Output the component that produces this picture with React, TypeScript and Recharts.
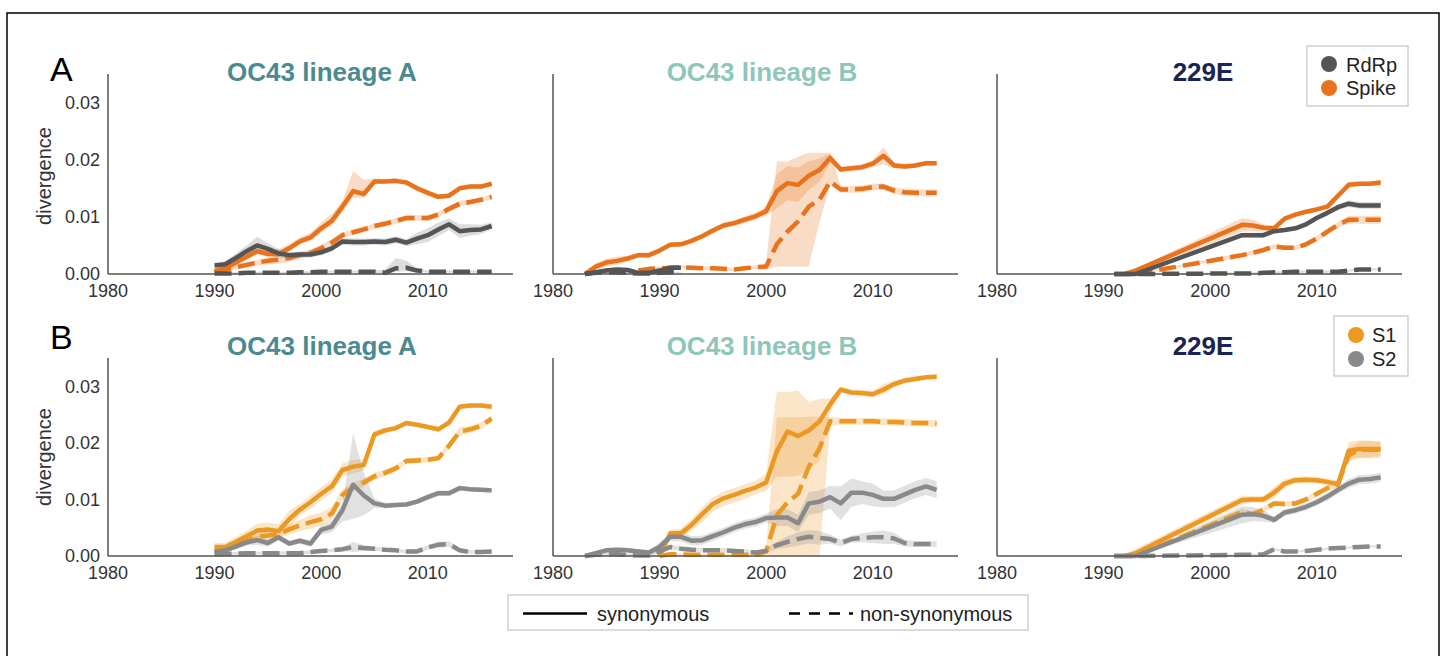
import { Area, ComposedChart, Line, XAxis, YAxis } from 'recharts';

const FONT = "'Liberation Sans', Arial, Helvetica, sans-serif";

// sampling years of each clade
const YEARS_OC43A = [1990, 1991, 1992, 1993, 1994, 1995, 1996, 1997, 1998, 1999, 2000, 2001, 2002, 2003, 2004, 2005, 2006, 2007, 2008, 2009, 2010, 2011, 2012, 2013, 2014, 2015, 2016];
const YEARS_OC43B = [1983, 1984, 1985, 1986, 1987, 1988, 1989, 1990, 1991, 1992, 1993, 1994, 1995, 1996, 1997, 1998, 1999, 2000, 2001, 2002, 2003, 2004, 2005, 2006, 2007, 2008, 2009, 2010, 2011, 2012, 2013, 2014, 2015, 2016];
const YEARS_229E = [1991, 1992, 1993, 2003, 2004, 2005, 2006, 2007, 2008, 2009, 2010, 2011, 2012, 2013, 2014, 2015, 2016];

const X_TICKS = [1980, 1990, 2000, 2010];
const Y_TICKS = [0, 0.01, 0.02, 0.03];

// ---- row A: RdRp vs Spike ----
// OC43 lineage A
const SPIKE_SYN_A = [0.0005, 0.001, 0.002, 0.003, 0.004, 0.0035, 0.0035, 0.0045, 0.0057, 0.0064, 0.008, 0.0093, 0.0118, 0.0145, 0.014, 0.0162, 0.0162, 0.0163, 0.016, 0.015, 0.0142, 0.0135, 0.0137, 0.015, 0.0153, 0.0153, 0.0158];
const SPIKE_SYN_A_UP = [0.0003, 0.0004, 0.0006, 0.0008, 0.0009, 0.0008, 0.0008, 0.0008, 0.0007, 0.0008, 0.001, 0.0012, 0.001, 0.0035, 0.0025, 0.0005, 0.0004, 0.0004, 0.0004, 0.0005, 0.0005, 0.0004, 0.0004, 0.0004, 0.0004, 0.0004, 0.0004];
const SPIKE_SYN_A_DN = [0.0003, 0.0004, 0.0005, 0.0006, 0.0006, 0.0005, 0.0005, 0.0005, 0.0005, 0.0006, 0.0008, 0.0008, 0.001, 0.0012, 0.0008, 0.0004, 0.0004, 0.0004, 0.0004, 0.0005, 0.0005, 0.0004, 0.0004, 0.0004, 0.0004, 0.0004, 0.0004];
const SPIKE_NON_A = [0.0003, 0.0008, 0.0012, 0.0016, 0.002, 0.0023, 0.0025, 0.0028, 0.0033, 0.0037, 0.0045, 0.0055, 0.0068, 0.0073, 0.0078, 0.0084, 0.0088, 0.0093, 0.0098, 0.0098, 0.0098, 0.0104, 0.0114, 0.0123, 0.0126, 0.013, 0.0135];
const SPIKE_NON_A_E = [0.0003, 0.0004, 0.0004, 0.0005, 0.0005, 0.0006, 0.0007, 0.0007, 0.0006, 0.0006, 0.0006, 0.0006, 0.0005, 0.0005, 0.0005, 0.0005, 0.0005, 0.0005, 0.0005, 0.0005, 0.0005, 0.0005, 0.0005, 0.0005, 0.0004, 0.0004, 0.0004];
const RDRP_SYN_A = [0.0015, 0.0017, 0.0028, 0.004, 0.005, 0.0044, 0.0036, 0.0033, 0.0034, 0.0034, 0.0038, 0.0045, 0.0057, 0.0056, 0.0056, 0.0057, 0.0056, 0.006, 0.0055, 0.0062, 0.0068, 0.0078, 0.0087, 0.0075, 0.0077, 0.0078, 0.0084];
const RDRP_SYN_A_E = [0.0005, 0.0005, 0.0008, 0.001, 0.0015, 0.001, 0.0008, 0.0005, 0.0005, 0.0005, 0.0005, 0.0005, 0.0006, 0.0006, 0.0006, 0.0006, 0.0006, 0.0006, 0.0006, 0.001, 0.0012, 0.0012, 0.001, 0.0012, 0.001, 0.0008, 0.0006];
const RDRP_NON_A = [0.0001, 0.0001, 0.0001, 0.0002, 0.0002, 0.0002, 0.0002, 0.0002, 0.0003, 0.0003, 0.0004, 0.0004, 0.0004, 0.0004, 0.0004, 0.0004, 0.0002, 0.001, 0.0011, 0.0006, 0.0004, 0.0004, 0.0004, 0.0004, 0.0004, 0.0004, 0.0004];
const RDRP_NON_A_UP = [0.0002, 0.0002, 0.0002, 0.0002, 0.0002, 0.0002, 0.0002, 0.0002, 0.0002, 0.0002, 0.0002, 0.0002, 0.0002, 0.0002, 0.0002, 0.0002, 0.0006, 0.0018, 0.0012, 0.0004, 0.0002, 0.0002, 0.0002, 0.0002, 0.0002, 0.0002, 0.0002];
const RDRP_NON_A_DN = [0.0001, 0.0001, 0.0001, 0.0002, 0.0002, 0.0002, 0.0002, 0.0002, 0.0002, 0.0002, 0.0002, 0.0002, 0.0002, 0.0002, 0.0002, 0.0002, 0.0002, 0.0006, 0.0006, 0.0003, 0.0002, 0.0002, 0.0002, 0.0002, 0.0002, 0.0002, 0.0002];

// OC43 lineage B
const SPIKE_SYN_B = [0, 0.0013, 0.002, 0.0023, 0.0027, 0.0033, 0.0033, 0.0041, 0.0051, 0.0052, 0.0058, 0.0066, 0.0076, 0.0085, 0.0089, 0.0095, 0.0101, 0.011, 0.0145, 0.0159, 0.0156, 0.0172, 0.0182, 0.0203, 0.0183, 0.0185, 0.0187, 0.0193, 0.0207, 0.019, 0.0188, 0.019, 0.0194, 0.0194];
const SPIKE_SYN_B_E = [0.0002, 0.0006, 0.0007, 0.0007, 0.0005, 0.0004, 0.0004, 0.0004, 0.0004, 0.0004, 0.0004, 0.0004, 0.0005, 0.0005, 0.0005, 0.0006, 0.0006, 0.0008, 0.003, 0.003, 0.003, 0.0025, 0.002, 0.0008, 0.0005, 0.0005, 0.0005, 0.0006, 0.0015, 0.0005, 0.0005, 0.0004, 0.0004, 0.0004];
const SPIKE_NON_B = [null, null, null, null, null, 0.0006, 0.0009, 0.001, 0.0011, 0.0012, 0.0011, 0.001, 0.001, 0.0009, 0.0008, 0.001, 0.0012, 0.0013, 0.0052, 0.0074, 0.0092, 0.0118, 0.013, 0.0162, 0.0148, 0.0148, 0.0149, 0.0152, 0.0153, 0.0146, 0.0143, 0.0142, 0.0142, 0.0142];
const SPIKE_NON_B_UP = [0, 0, 0, 0, 0, 0.0003, 0.0003, 0.0003, 0.0003, 0.0003, 0.0003, 0.0003, 0.0003, 0.0003, 0.0003, 0.0003, 0.0003, 0.0005, 0.0145, 0.0123, 0.0113, 0.0094, 0.0082, 0.005, 0.0006, 0.0006, 0.0006, 0.0006, 0.0006, 0.0006, 0.0006, 0.0006, 0.0006, 0.0006];
const SPIKE_NON_B_DN = [0, 0, 0, 0, 0, 0.0003, 0.0003, 0.0003, 0.0003, 0.0003, 0.0003, 0.0003, 0.0003, 0.0003, 0.0003, 0.0003, 0.0003, 0.0005, 0.0039, 0.0061, 0.0079, 0.0105, 0.004, 0.0005, 0.0006, 0.0006, 0.0006, 0.0006, 0.0006, 0.0006, 0.0006, 0.0006, 0.0006, 0.0006];
const RDRP_SYN_B = [0, 0.0003, 0.0006, 0.0008, 0.0007, 0.0002, 0.0002, 0.0006, 0.0011, 0.0011];
const RDRP_SYN_B_E = [0.0001, 0.0003, 0.0004, 0.0004, 0.0004, 0.0003, 0.0003, 0.0003, 0.0003, 0.0003];
const RDRP_NON_B = [0, 0.0002, 0.0003, 0.0003, 0.0002, 0.0001, 0.0001, 0.0002, 0.0003, 0.0003];
const RDRP_NON_B_E = [0.0001, 0.0001, 0.0001, 0.0001, 0.0001, 0.0001, 0.0001, 0.0001, 0.0001, 0.0001];

// 229E
const SPIKE_SYN_C = [null, 0, 0.0006, 0.0086, 0.0085, 0.0081, 0.008, 0.0097, 0.0104, 0.0109, 0.0113, 0.0118, 0.0137, 0.0156, 0.0158, 0.0158, 0.016];
const SPIKE_SYN_C_E = [0, 0.0001, 0.0003, 0.0012, 0.001, 0.0006, 0.0004, 0.0004, 0.0004, 0.0004, 0.0004, 0.0004, 0.0004, 0.0005, 0.0004, 0.0004, 0.0005];
const SPIKE_NON_C = [null, null, 0, 0.0033, 0.0037, 0.0042, 0.0048, 0.0046, 0.0046, 0.0052, 0.0062, 0.0074, 0.0086, 0.0095, 0.0095, 0.0095, 0.0095];
const SPIKE_NON_C_E = [0, 0, 0.0001, 0.0004, 0.0004, 0.0004, 0.0004, 0.0004, 0.0004, 0.0004, 0.0005, 0.0005, 0.0005, 0.0007, 0.0007, 0.0007, 0.0007];
const RDRP_SYN_C = [0, 0, 0, 0.0068, 0.0068, 0.0068, 0.0075, 0.0077, 0.008, 0.0087, 0.0098, 0.0107, 0.0117, 0.0123, 0.012, 0.012, 0.012];
const RDRP_SYN_C_E = [0.0001, 0.0001, 0.0001, 0.0004, 0.0004, 0.0005, 0.0004, 0.0004, 0.0004, 0.0004, 0.0004, 0.0004, 0.0005, 0.0006, 0.0006, 0.0006, 0.0006];
const RDRP_NON_C = [0, 0, 0, 0.0001, 0.0001, 0.0002, 0.0003, 0.0003, 0.0004, 0.0004, 0.0004, 0.0004, 0.0004, 0.0006, 0.0008, 0.0008, 0.0008];
const RDRP_NON_C_E = [0.0001, 0.0001, 0.0001, 0.0002, 0.0002, 0.0002, 0.0002, 0.0002, 0.0002, 0.0002, 0.0002, 0.0002, 0.0002, 0.0002, 0.0002, 0.0002, 0.0002];

// ---- row B: S1 vs S2 ----
// OC43 lineage A
const S1_SYN_A = [0.0016, 0.0016, 0.0025, 0.0035, 0.0045, 0.0047, 0.0044, 0.0065, 0.0082, 0.0095, 0.011, 0.0123, 0.0152, 0.0158, 0.0161, 0.0215, 0.0222, 0.0226, 0.0235, 0.0232, 0.0228, 0.0224, 0.0236, 0.0264, 0.0266, 0.0266, 0.0264];
const S1_SYN_A_E = [0.0007, 0.0007, 0.0008, 0.001, 0.0012, 0.0012, 0.0012, 0.0015, 0.001, 0.0012, 0.0012, 0.0012, 0.0012, 0.0012, 0.001, 0.0006, 0.0005, 0.0004, 0.0004, 0.0004, 0.0004, 0.0004, 0.0004, 0.0004, 0.0004, 0.0004, 0.0004];
const S1_NON_A = [0.0008, 0.0011, 0.0018, 0.0027, 0.0034, 0.0036, 0.0039, 0.0047, 0.0054, 0.006, 0.0065, 0.0075, 0.0108, 0.0122, 0.013, 0.0141, 0.0147, 0.0155, 0.0168, 0.0169, 0.017, 0.0173, 0.0195, 0.022, 0.0224, 0.023, 0.0243];
const S1_NON_A_E = [0.0005, 0.0005, 0.0006, 0.0007, 0.0008, 0.0008, 0.0008, 0.0009, 0.001, 0.0012, 0.0012, 0.0012, 0.001, 0.0008, 0.0007, 0.0006, 0.0006, 0.0006, 0.0005, 0.0005, 0.0005, 0.0005, 0.0006, 0.0008, 0.0006, 0.0006, 0.0006];
const S2_SYN_A = [0.0007, 0.001, 0.0017, 0.0024, 0.0028, 0.0023, 0.0033, 0.0022, 0.0027, 0.0022, 0.0046, 0.0052, 0.0081, 0.0126, 0.0107, 0.0093, 0.0089, 0.009, 0.0091, 0.0096, 0.0104, 0.0111, 0.0111, 0.012, 0.0118, 0.0117, 0.0116];
const S2_SYN_A_UP = [0.0004, 0.0004, 0.0005, 0.0006, 0.0008, 0.0006, 0.0006, 0.0005, 0.0005, 0.0006, 0.0008, 0.001, 0.0012, 0.009, 0.004, 0.0008, 0.0005, 0.0004, 0.0004, 0.0004, 0.0005, 0.0005, 0.0005, 0.0004, 0.0004, 0.0004, 0.0004];
const S2_SYN_A_DN = [0.0004, 0.0004, 0.0005, 0.0006, 0.0008, 0.0006, 0.0006, 0.0005, 0.0005, 0.0006, 0.0008, 0.001, 0.002, 0.006, 0.0035, 0.0008, 0.0005, 0.0004, 0.0004, 0.0004, 0.0005, 0.0005, 0.0005, 0.0004, 0.0004, 0.0004, 0.0004];
const S2_NON_A = [0.0003, 0.0004, 0.0004, 0.0005, 0.0005, 0.0005, 0.0005, 0.0005, 0.0005, 0.0007, 0.0009, 0.001, 0.0012, 0.0016, 0.0014, 0.0013, 0.0011, 0.001, 0.0008, 0.0008, 0.0015, 0.002, 0.0021, 0.001, 0.0007, 0.0007, 0.0008];
const S2_NON_A_E = [0.0003, 0.0003, 0.0003, 0.0003, 0.0003, 0.0003, 0.0003, 0.0003, 0.0003, 0.0003, 0.0003, 0.0003, 0.0003, 0.0009, 0.0005, 0.0004, 0.0003, 0.0003, 0.0003, 0.0003, 0.0004, 0.0005, 0.0005, 0.0004, 0.0003, 0.0003, 0.0003];

// OC43 lineage B
const S1_SYN_B = [null, null, null, null, null, null, null, 0, 0.004, 0.004, 0.0055, 0.0074, 0.0092, 0.0102, 0.0108, 0.0115, 0.0121, 0.013, 0.0185, 0.022, 0.0212, 0.0222, 0.0238, 0.0268, 0.0294, 0.0289, 0.0288, 0.0286, 0.0294, 0.0304, 0.031, 0.0313, 0.0316, 0.0317];
const S1_SYN_B_UP = [0, 0, 0, 0, 0, 0, 0, 0.0003, 0.0006, 0.0008, 0.001, 0.0012, 0.0012, 0.0012, 0.0012, 0.0012, 0.0012, 0.0015, 0.0106, 0.007, 0.008, 0.005, 0.004, 0.001, 0.0005, 0.0005, 0.0005, 0.0006, 0.001, 0.0006, 0.0005, 0.0005, 0.0004, 0.0004];
const S1_SYN_B_DN = [0, 0, 0, 0, 0, 0, 0, 0.0003, 0.0006, 0.0008, 0.001, 0.0014, 0.0014, 0.0014, 0.0014, 0.0014, 0.0012, 0.0015, 0.0045, 0.008, 0.007, 0.007, 0.007, 0.0015, 0.0005, 0.0005, 0.0005, 0.0006, 0.0008, 0.0006, 0.0005, 0.0005, 0.0004, 0.0004];
const S1_NON_B = [null, null, null, null, null, null, null, 0, 0.0003, 0.0003, 0.0002, 0.0002, 0.0002, 0.0002, 0.0002, 0.0002, 0.0002, 0.0008, 0.0072, 0.0095, 0.011, 0.0158, 0.019, 0.0238, 0.0238, 0.0238, 0.0238, 0.0238, 0.0237, 0.0237, 0.0236, 0.0235, 0.0235, 0.0234];
const S1_NON_B_UP = [0, 0, 0, 0, 0, 0, 0, 0.0001, 0.0002, 0.0002, 0.0002, 0.0002, 0.0002, 0.0002, 0.0002, 0.0002, 0.0002, 0.0008, 0.0173, 0.015, 0.0135, 0.0088, 0.0056, 0.0008, 0.0006, 0.0006, 0.0006, 0.0006, 0.0006, 0.0006, 0.0006, 0.0006, 0.0006, 0.0006];
const S1_NON_B_DN = [0, 0, 0, 0, 0, 0, 0, 0, 0.0002, 0.0002, 0.0002, 0.0002, 0.0002, 0.0002, 0.0002, 0.0002, 0.0002, 0.0006, 0.0072, 0.0095, 0.011, 0.0158, 0.019, 0.0008, 0.0006, 0.0006, 0.0006, 0.0006, 0.0006, 0.0006, 0.0006, 0.0006, 0.0006, 0.0006];
const S2_SYN_B = [0, 0.0005, 0.001, 0.0011, 0.001, 0.0008, 0.0006, 0.0016, 0.0034, 0.0034, 0.0027, 0.0028, 0.0035, 0.0042, 0.005, 0.0056, 0.006, 0.0067, 0.0068, 0.0068, 0.0058, 0.0093, 0.0096, 0.0104, 0.0093, 0.0112, 0.0112, 0.0108, 0.0101, 0.0101, 0.0109, 0.0117, 0.0123, 0.0117];
const S2_SYN_B_E = [0.0002, 0.0004, 0.0004, 0.0004, 0.0004, 0.0004, 0.0004, 0.0008, 0.0008, 0.0008, 0.0008, 0.0008, 0.0008, 0.0008, 0.0008, 0.0008, 0.0008, 0.0008, 0.0015, 0.0015, 0.0015, 0.002, 0.002, 0.002, 0.003, 0.0025, 0.002, 0.002, 0.0015, 0.0015, 0.0015, 0.0015, 0.0015, 0.0015];
const S2_NON_B = [0, 0.0002, 0.0003, 0.0003, 0.0002, 0.0001, 0.0001, 0.0008, 0.0016, 0.0013, 0.0011, 0.001, 0.001, 0.001, 0.0009, 0.0008, 0.0006, 0.0009, 0.0019, 0.0025, 0.003, 0.0034, 0.0032, 0.003, 0.0023, 0.003, 0.0032, 0.0033, 0.0033, 0.0031, 0.0023, 0.0021, 0.0021, 0.0021];
const S2_NON_B_E = [0.0001, 0.0003, 0.0003, 0.0003, 0.0003, 0.0003, 0.0003, 0.0004, 0.0004, 0.0004, 0.0004, 0.0004, 0.0004, 0.0004, 0.0004, 0.0004, 0.0004, 0.0004, 0.0006, 0.001, 0.0012, 0.0012, 0.0012, 0.0008, 0.0006, 0.0006, 0.0008, 0.001, 0.0012, 0.001, 0.0006, 0.0005, 0.0005, 0.0005];

// 229E
const S1_SYN_C = [null, 0, 0.0005, 0.0099, 0.01, 0.01, 0.0112, 0.0128, 0.0134, 0.0135, 0.0134, 0.0131, 0.0127, 0.0186, 0.0189, 0.0189, 0.0189];
const S1_SYN_C_E = [0, 0.0001, 0.0008, 0.0008, 0.0006, 0.0006, 0.001, 0.0008, 0.0006, 0.0006, 0.0006, 0.0006, 0.0006, 0.0015, 0.0015, 0.0015, 0.0012];
const S1_NON_C = [null, null, 0, 0.0078, 0.0074, 0.0082, 0.0093, 0.0092, 0.0093, 0.01, 0.011, 0.012, 0.0127, 0.0178, 0.0188, 0.0188, 0.0188];
const S1_NON_C_E = [0, 0, 0.0001, 0.0006, 0.0005, 0.0005, 0.0005, 0.0005, 0.0005, 0.0005, 0.0005, 0.0005, 0.0006, 0.0012, 0.0015, 0.0015, 0.0015];
const S2_SYN_C = [0, 0, 0, 0.0073, 0.0074, 0.0071, 0.0064, 0.0077, 0.0081, 0.0087, 0.0095, 0.0105, 0.0117, 0.0128, 0.0135, 0.0136, 0.0139];
const S2_SYN_C_E = [0.0001, 0.0001, 0.0001, 0.0015, 0.0012, 0.001, 0.0006, 0.0006, 0.0006, 0.0006, 0.0006, 0.0007, 0.0007, 0.0008, 0.0008, 0.0008, 0.0008];
const S2_NON_C = [0, 0, 0, 0.0002, 0.0002, 0.0003, 0.0012, 0.0008, 0.0008, 0.0009, 0.0011, 0.0013, 0.0014, 0.0015, 0.0016, 0.0017, 0.0017];
const S2_NON_C_E = [0.0001, 0.0001, 0.0001, 0.0002, 0.0002, 0.0002, 0.0002, 0.0002, 0.0002, 0.0002, 0.0002, 0.0002, 0.0002, 0.0002, 0.0002, 0.0002, 0.0002];

const ORANGE = '#e8731c';
const DARK = '#555555';
const S1_COLOR = '#eb9922';
const S2_COLOR = '#898989';

type Series = {
  v: (number | null)[];
  up: number[];
  dn: number[];
  color: string;
  bandOpacity: number;
  dashed?: boolean;
};

function sym(v: (number | null)[], e: number[], color: string, bandOpacity: number, dashed = false): Series {
  return { v, up: e, dn: e, color, bandOpacity, dashed };
}

function asym(v: (number | null)[], up: number[], dn: number[], color: string, bandOpacity: number, dashed = false): Series {
  return { v, up, dn, color, bandOpacity, dashed };
}

const PANELS = [
  {
    col: 0, row: 0, years: YEARS_OC43A,
    series: [
      asym(SPIKE_SYN_A, SPIKE_SYN_A_UP, SPIKE_SYN_A_DN, ORANGE, 0.25),
      sym(SPIKE_NON_A, SPIKE_NON_A_E, ORANGE, 0.25, true),
      sym(RDRP_SYN_A, RDRP_SYN_A_E, DARK, 0.2),
      asym(RDRP_NON_A, RDRP_NON_A_UP, RDRP_NON_A_DN, DARK, 0.2, true),
    ],
  },
  {
    col: 1, row: 0, years: YEARS_OC43B,
    series: [
      sym(SPIKE_SYN_B, SPIKE_SYN_B_E, ORANGE, 0.25),
      asym(SPIKE_NON_B, SPIKE_NON_B_UP, SPIKE_NON_B_DN, ORANGE, 0.25, true),
      sym(RDRP_SYN_B, RDRP_SYN_B_E, DARK, 0.2),
      sym(RDRP_NON_B, RDRP_NON_B_E, DARK, 0.2, true),
    ],
  },
  {
    col: 2, row: 0, years: YEARS_229E,
    series: [
      sym(SPIKE_SYN_C, SPIKE_SYN_C_E, ORANGE, 0.25),
      sym(SPIKE_NON_C, SPIKE_NON_C_E, ORANGE, 0.25, true),
      sym(RDRP_SYN_C, RDRP_SYN_C_E, DARK, 0.2),
      sym(RDRP_NON_C, RDRP_NON_C_E, DARK, 0.2, true),
    ],
  },
  {
    col: 0, row: 1, years: YEARS_OC43A,
    series: [
      sym(S1_SYN_A, S1_SYN_A_E, S1_COLOR, 0.25),
      sym(S1_NON_A, S1_NON_A_E, S1_COLOR, 0.25, true),
      asym(S2_SYN_A, S2_SYN_A_UP, S2_SYN_A_DN, S2_COLOR, 0.25),
      sym(S2_NON_A, S2_NON_A_E, S2_COLOR, 0.25, true),
    ],
  },
  {
    col: 1, row: 1, years: YEARS_OC43B,
    series: [
      asym(S1_SYN_B, S1_SYN_B_UP, S1_SYN_B_DN, S1_COLOR, 0.25),
      asym(S1_NON_B, S1_NON_B_UP, S1_NON_B_DN, S1_COLOR, 0.25, true),
      sym(S2_SYN_B, S2_SYN_B_E, S2_COLOR, 0.25),
      sym(S2_NON_B, S2_NON_B_E, S2_COLOR, 0.25, true),
    ],
  },
  {
    col: 2, row: 1, years: YEARS_229E,
    series: [
      sym(S1_SYN_C, S1_SYN_C_E, S1_COLOR, 0.25),
      sym(S1_NON_C, S1_NON_C_E, S1_COLOR, 0.25, true),
      sym(S2_SYN_C, S2_SYN_C_E, S2_COLOR, 0.25),
      sym(S2_NON_C, S2_NON_C_E, S2_COLOR, 0.25, true),
    ],
  },
];

const COL_X = [108, 553, 997];
const ROW_TOP = [74, 358];
const ROW_H = [200, 198];
const Y_AXIS_W = 70;
const PLOT_W = 405;

function buildRows(years: number[], series: Series[]) {
  return years.map((year, i) => {
    const row: Record<string, unknown> = { year };
    series.forEach((s, j) => {
      const v = s.v[i] ?? null;
      row[`v${j}`] = v;
      row[`r${j}`] = v == null ? null : [Math.max(0, v - (s.dn[i] ?? 0)), v + (s.up[i] ?? 0)];
    });
    return row;
  });
}

function Panel({ col, row, years, series }: { col: number; row: number; years: number[]; series: Series[] }) {
  const data = buildRows(years, series);
  const plotH = ROW_H[row];
  const tickStyle = { fontSize: 18, fill: '#333', fontFamily: FONT };
  return (
    <div style={{ position: 'absolute', left: COL_X[col] - Y_AXIS_W, top: ROW_TOP[row] - 10 }}>
      <ComposedChart
        width={Y_AXIS_W + PLOT_W + 10}
        height={plotH + 45}
        data={data}
        margin={{ top: 10, right: 10, bottom: 5, left: 0 }}
      >
        <XAxis
          type="number"
          dataKey="year"
          domain={[1980, 2018]}
          ticks={X_TICKS}
          tickLine={false}
          tickMargin={4}
          axisLine={{ stroke: '#555', strokeWidth: 1.5 }}
          tick={tickStyle}
          height={30}
        />
        <YAxis
          type="number"
          domain={[0, 0.035]}
          ticks={Y_TICKS}
          tickFormatter={(v: number) => v.toFixed(2)}
          tickLine={false}
          axisLine={{ stroke: '#555', strokeWidth: 1.5 }}
          tick={col === 0 ? tickStyle : false}
          width={Y_AXIS_W}
        />
        {series.map((s, j) => (
          <Area
            key={`a${j}`}
            type="linear"
            dataKey={`r${j}`}
            stroke="none"
            fill={s.color}
            fillOpacity={s.bandOpacity}
            dot={false}
            activeDot={false}
            isAnimationActive={false}
          />
        ))}
        {series.map((s, j) => (
          <Line
            key={`l${j}`}
            type="linear"
            dataKey={`v${j}`}
            stroke={s.color}
            strokeWidth={4.5}
            strokeDasharray={s.dashed ? '17 7' : undefined}
            strokeLinejoin="round"
            dot={false}
            activeDot={false}
            isAnimationActive={false}
          />
        ))}
      </ComposedChart>
    </div>
  );
}

const TITLES = ['OC43 lineage A', 'OC43 lineage B', '229E'];
const TITLE_COLORS = ['#4b8a8e', '#8ec6b8', '#1b2452'];
const TITLE_X = [322, 762, 1203];
const TITLE_Y = [81, 355];
const ROW_LETTERS = ['A', 'B'];

export default function App() {
  return (
    <div
      style={{
        position: 'absolute',
        left: 0,
        top: 0,
        width: 1444,
        height: 656,
        overflow: 'hidden',
        background: '#fff',
        fontFamily: FONT,
      }}
    >
      {PANELS.map((p, i) => (
        <Panel key={i} col={p.col} row={p.row} years={p.years} series={p.series} />
      ))}
      <svg
        width={1444}
        height={656}
        style={{ position: 'absolute', left: 0, top: 0, pointerEvents: 'none' }}
        fontFamily={FONT}
      >
        <path d="M7 660 V13 H1439 V660" stroke="#000" strokeWidth={1.5} fill="none" />
        {ROW_LETTERS.map((l, r) => (
          <text key={l} x={50} y={r === 0 ? 81 : 349} fontSize={34} fill="#000">
            {l}
          </text>
        ))}
        {TITLE_Y.map((ty) =>
          TITLES.map((t, c) => (
            <text
              key={`${ty}-${t}`}
              x={TITLE_X[c]}
              y={ty}
              textAnchor="middle"
              fontSize={26}
              fontWeight="bold"
              fill={TITLE_COLORS[c]}
            >
              {t}
            </text>
          ))
        )}
        {[176, 457].map((cy) => (
          <text
            key={cy}
            transform={`translate(51,${cy}) rotate(-90)`}
            textAnchor="middle"
            fontSize={20}
            fill="#333"
          >
            divergence
          </text>
        ))}

        {/* gene legend */}
        <rect x={1307} y={46} width={101} height={60} fill="#fff" stroke="#cfcfcf" strokeWidth={1.5} />
        <circle cx={1329} cy={64} r={8} fill={DARK} />
        <text x={1346} y={71.5} fontSize={20} fill="#222">RdRp</text>
        <circle cx={1329} cy={88} r={8} fill={ORANGE} />
        <text x={1346} y={95} fontSize={20} fill="#222">Spike</text>

        {/* subunit legend */}
        <rect x={1334} y={316} width={74} height={60} fill="#fff" stroke="#cfcfcf" strokeWidth={1.5} />
        <circle cx={1356} cy={335} r={8} fill={S1_COLOR} />
        <text x={1372} y={342} fontSize={20} fill="#222">S1</text>
        <circle cx={1356} cy={359} r={8} fill={S2_COLOR} />
        <text x={1372} y={366} fontSize={20} fill="#222">S2</text>

        {/* line style legend */}
        <rect x={508} y={595} width={520} height={35} fill="#fff" stroke="#cfcfcf" strokeWidth={1.5} />
        <line x1={523} y1={613.5} x2={587} y2={613.5} stroke="#000" strokeWidth={2.5} />
        <text x={597} y={621} fontSize={20} fill="#222">synonymous</text>
        <line x1={789} y1={613.5} x2={853} y2={613.5} stroke="#000" strokeWidth={2.5} strokeDasharray="11 9" />
        <text x={860} y={621} fontSize={20} fill="#222">non-synonymous</text>
      </svg>
    </div>
  );
}
